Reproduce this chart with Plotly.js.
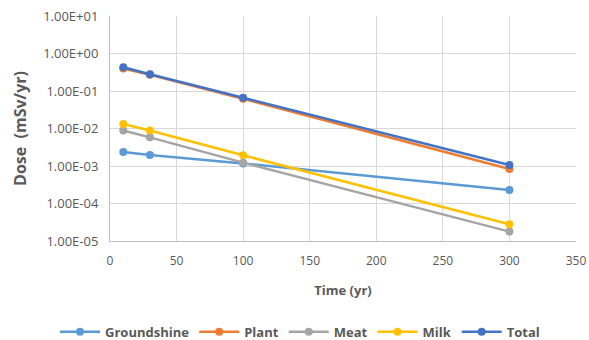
<!DOCTYPE html>
<html><head><meta charset="utf-8">
<script src="https://cdn.plot.ly/plotly-3.0.1.min.js"></script>
<style>html,body{margin:0;padding:0;background:#fff}#chart{width:589px;height:340px}</style>
</head><body><div id="chart"></div>
<script>
const years = [10, 30, 100, 300];
const groundshine = [0.00236, 0.00196, 0.00117, 0.00023];
const plant = [0.40, 0.27, 0.062, 0.00083];
const meat = [0.0088, 0.0058, 0.00123, 0.0000178];
const milk = [0.0132, 0.0088, 0.00193, 0.000028];
const total = [0.43, 0.28, 0.066, 0.00106];
const seriesNames = ["Groundshine", "Plant", "Meat", "Milk", "Total"];
const seriesColors = ["#5B9BD5", "#ED7D31", "#A5A5A5", "#FFC000", "#4472C4"];
const yTickVals = [1e-5, 1e-4, 1e-3, 1e-2, 1e-1, 1e0, 1e1];
const yTickText = ["1.00E-05", "1.00E-04", "1.00E-03", "1.00E-02", "1.00E-01", "1.00E+00", "1.00E+01"];

const allSeries = [groundshine, plant, meat, milk, total];
const traces = allSeries.map((vals, i) => ({
  x: years, y: vals, name: seriesNames[i], type: 'scatter', mode: 'lines+markers',
  line: {color: seriesColors[i], width: 2.5},
  marker: {color: seriesColors[i], size: 8}
}));

const fontFam = '"Open Sans", "Liberation Sans", sans-serif';
const layout = {
  width: 589, height: 340,
  margin: {l: 110, r: 13, t: 16, b: 99, autoexpand: false},
  paper_bgcolor: '#fff', plot_bgcolor: '#fff',
  showlegend: true,
  font: {family: fontFam, color: '#595959', size: 12},
  xaxis: {
    range: [0, 350], dtick: 50, tick0: 0,
    showgrid: true, gridcolor: '#d9d9d9', gridwidth: 1,
    showline: true, linecolor: '#bfbfbf', linewidth: 1,
    zeroline: false, ticks: '', ticklabelstandoff: 9,
    tickfont: {size: 12, color: '#595959'},
    title: {text: '<b>Time (yr)</b>', font: {size: 13, color: '#595959'}, standoff: 17}
  },
  yaxis: {
    type: 'log', range: [-5, 1],
    tickvals: yTickVals, ticktext: yTickText,
    showgrid: true, gridcolor: '#d9d9d9', gridwidth: 1,
    showline: true, linecolor: '#bfbfbf', linewidth: 1,
    zeroline: false, ticks: '', ticklabelstandoff: 8,
    tickfont: {size: 13, color: '#595959'},
    title: {text: '<b>Dose  (mSv/yr)</b>', font: {size: 16, color: '#595959'}, standoff: 12}
  },
  legend: {
    orientation: 'h', x: -0.118, xanchor: 'left',
    y: -0.404, yanchor: 'middle',
    itemwidth: 40,
    font: {size: 13, color: '#595959', family: fontFam, weight: 'bold'},
    tracegroupgap: 0
  }
};
Plotly.newPlot('chart', traces, layout, {displayModeBar: false, staticPlot: true});
</script></body></html>
